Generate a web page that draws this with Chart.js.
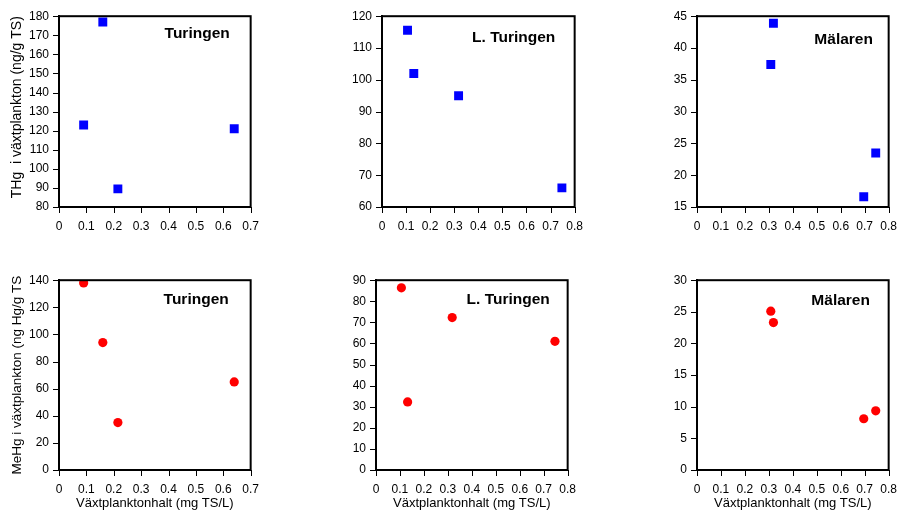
<!DOCTYPE html>
<html>
<head>
<meta charset="utf-8">
<script src="https://cdn.jsdelivr.net/npm/chart.js@4/dist/chart.umd.min.js"></script>
<style>
  html, body { margin: 0; padding: 0; background: #fff; overflow: hidden; }
  body { width: 898px; height: 512px; position: relative; }
  canvas { position: absolute; }
</style>
</head>
<body>
<canvas id="c1"></canvas>
<canvas id="c2"></canvas>
<canvas id="c3"></canvas>
<canvas id="c4"></canvas>
<canvas id="c5"></canvas>
<canvas id="c6"></canvas>
<script>
// Phytoplankton content (mg TS/L) per sampling occasion, by lake
const turingenX  = [0.09, 0.16, 0.215, 0.64];
const lTuringenX = [0.106, 0.132, 0.318, 0.747];
const malarenX   = [0.308, 0.319, 0.696, 0.746];

// Total mercury in phytoplankton (ng/g TS)
const turingenTHg  = [123, 177, 89.5, 121];
const lTuringenTHg = [115.6, 102, 95, 66];
const malarenTHg   = [37.4, 43.9, 16.6, 23.5];

// Methylmercury in phytoplankton (ng Hg/g TS)
const turingenMeHg  = [138, 94, 35, 65];
const lTuringenMeHg = [86.4, 32.3, 72.3, 61];
const malarenMeHg   = [25.1, 23.3, 8.1, 9.35];

// Axis ranges and tick steps
const xMaxTuringen = 0.7, xMaxOther = 0.8, xStep = 0.1;
const yRangesTHg  = [[80, 180, 10], [60, 120, 10], [15, 45, 5]];
const yRangesMeHg = [[0, 140, 20], [0, 90, 10], [0, 30, 5]];

const lakeNames = ['Turingen', 'L. Turingen', 'Mälaren'];
const yTitleTHg  = 'THg  i växtplankton (ng/g TS)';
const yTitleMeHg = 'MeHg i växtplankton (ng Hg/g TS';
const xTitle = 'Växtplanktonhalt (mg TS/L)';

const FONT = "'Liberation Sans', Arial, sans-serif";
const TICK_LEN = 6;

// Frame around the plot area, outward tick marks and the lake name
const framePlugin = {
  id: 'frame',
  afterDraw(chart, args, opts) {
    const { ctx, chartArea: a, scales } = chart;
    ctx.save();
    ctx.strokeStyle = '#000';
    ctx.lineWidth = 2;
    ctx.strokeRect(a.left, a.top, a.right - a.left, a.bottom - a.top);

    ctx.lineWidth = 1;
    ctx.beginPath();
    scales.x.ticks.forEach((t, i) => {
      const px = Math.round(scales.x.getPixelForTick(i)) + 0.5;
      ctx.moveTo(px, a.bottom);
      ctx.lineTo(px, a.bottom + TICK_LEN);
    });
    scales.y.ticks.forEach((t, i) => {
      const py = Math.round(scales.y.getPixelForTick(i)) + 0.5;
      ctx.moveTo(a.left, py);
      ctx.lineTo(a.left - TICK_LEN, py);
    });
    ctx.stroke();

    ctx.fillStyle = '#000';
    ctx.font = 'bold 15.5px ' + FONT;
    ctx.textAlign = 'center';
    ctx.textBaseline = 'alphabetic';
    ctx.fillText(opts.text, a.right - opts.dx, a.top + opts.dy);
    ctx.restore();
  }
};

const PAD_TOP = 10, PAD_RIGHT = 14;

function makePanel(id, rect, cfg) {
  const [L, T, R, B] = rect;
  const canvas = document.getElementById(id);
  const left = L - cfg.yW;
  const top = T - PAD_TOP;
  const w = cfg.yW + (R - L) + PAD_RIGHT;
  const h = PAD_TOP + (B - T) + cfg.xH;
  canvas.style.left = left + 'px';
  canvas.style.top = top + 'px';
  canvas.width = w; canvas.height = h;
  canvas.style.width = w + 'px'; canvas.style.height = h + 'px';

  const pts = cfg.xs.map((x, i) => ({ x: x, y: cfg.ys[i] }));
  const tickFont = { family: FONT, size: 12 };
  // tick marks themselves are stroked by the frame plugin; the length here
  // only reserves the space between axis and labels
  const gridCfg = { display: false, drawTicks: true, tickLength: TICK_LEN };

  new Chart(canvas, {
    type: 'scatter',
    data: {
      datasets: [{
        data: pts,
        pointStyle: cfg.style,
        pointRadius: cfg.radius,
        pointHoverRadius: cfg.radius,
        backgroundColor: cfg.color,
        borderColor: cfg.color,
        borderWidth: 0
      }]
    },
    options: {
      responsive: false,
      animation: false,
      devicePixelRatio: 1,
      layout: { padding: { top: PAD_TOP, right: PAD_RIGHT, left: 0, bottom: 0 } },
      plugins: {
        legend: { display: false },
        tooltip: { enabled: false },
        frame: { text: cfg.name, dx: cfg.hdx, dy: cfg.hdy }
      },
      scales: {
        x: {
          type: 'linear',
          min: 0, max: cfg.xMax,
          border: { display: true, color: '#000', width: 2 },
          grid: gridCfg,
          ticks: {
            stepSize: xStep, color: '#000', font: tickFont, padding: 6,
            maxRotation: 0, autoSkip: false,
            callback: v => String(Number(v.toFixed(1)))
          },
          title: {
            display: !!cfg.xTitle, text: cfg.xTitle || '', color: '#000',
            font: { family: FONT, size: 13 }, padding: { top: 0, bottom: 1 }
          },
          afterFit: s => { s.height = cfg.xH; }
        },
        y: {
          type: 'linear',
          min: cfg.yRange[0], max: cfg.yRange[1],
          border: { display: true, color: '#000', width: 2 },
          grid: gridCfg,
          ticks: {
            stepSize: cfg.yRange[2], color: '#000', font: tickFont, padding: 4,
            autoSkip: false
          },
          title: {
            display: !!cfg.yTitle, text: cfg.yTitle || '', color: '#000',
            align: cfg.yTitleAlign || 'center',
            font: { family: FONT, size: cfg.yTitleSize || 14 }, padding: { top: 9, bottom: 0 }
          },
          afterFit: s => { s.width = cfg.yW; }
        }
      }
    },
    plugins: [framePlugin]
  });
}

const blue = { style: 'rect', radius: 6.3, color: '#0000ff' };
const red  = { style: 'circle', radius: 4.6, color: '#ff0000' };

// Top row: total mercury
makePanel('c1', [59, 15, 251, 207], Object.assign({}, blue, {
  xs: turingenX, ys: turingenTHg, xMax: xMaxTuringen, yRange: yRangesTHg[0],
  yW: 59, xH: 26, yTitle: yTitleTHg, yTitleAlign: 'end', yTitleSize: 14,
  name: lakeNames[0], hdx: 53.5, hdy: 22
}));
makePanel('c2', [382, 15, 575, 207], Object.assign({}, blue, {
  xs: lTuringenX, ys: lTuringenTHg, xMax: xMaxOther, yRange: yRangesTHg[1],
  yW: 50, xH: 26, name: lakeNames[1], hdx: 61, hdy: 26
}));
makePanel('c3', [697, 15, 889, 207], Object.assign({}, blue, {
  xs: malarenX, ys: malarenTHg, xMax: xMaxOther, yRange: yRangesTHg[2],
  yW: 50, xH: 26, name: lakeNames[2], hdx: 45, hdy: 28
}));

// Bottom row: methylmercury
makePanel('c4', [59, 279, 251, 470], Object.assign({}, red, {
  xs: turingenX, ys: turingenMeHg, xMax: xMaxTuringen, yRange: yRangesMeHg[0],
  yW: 59, xH: 42, yTitle: yTitleMeHg, yTitleSize: 13.5, xTitle: xTitle,
  name: lakeNames[0], hdx: 54.5, hdy: 24
}));
makePanel('c5', [376, 279, 568, 470], Object.assign({}, red, {
  xs: lTuringenX, ys: lTuringenMeHg, xMax: xMaxOther, yRange: yRangesMeHg[1],
  yW: 50, xH: 42, xTitle: xTitle, name: lakeNames[1], hdx: 59.5, hdy: 24
}));
makePanel('c6', [697, 279, 889, 470], Object.assign({}, red, {
  xs: malarenX, ys: malarenMeHg, xMax: xMaxOther, yRange: yRangesMeHg[2],
  yW: 50, xH: 42, xTitle: xTitle, name: lakeNames[2], hdx: 48, hdy: 25
}));
</script>
</body>
</html>
